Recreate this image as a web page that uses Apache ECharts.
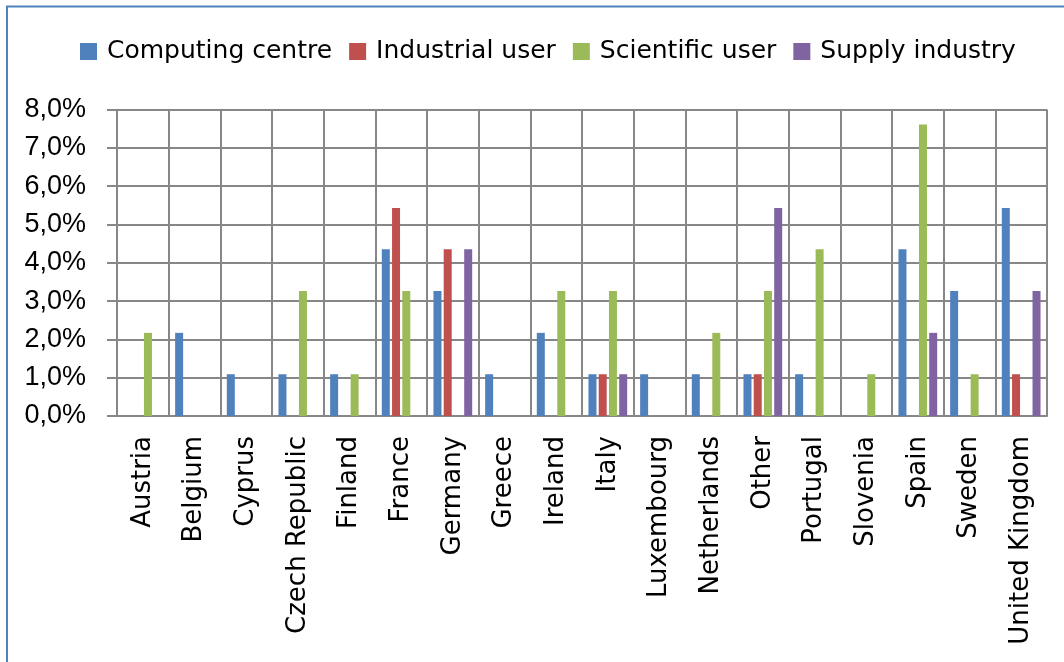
<!DOCTYPE html>
<html>
<head>
<meta charset="utf-8">
<script src="https://cdn.jsdelivr.net/npm/echarts@6/dist/echarts.min.js"></script>
<style>html,body{margin:0;padding:0;background:#fff;}#c{width:1064px;height:662px;}</style>
</head>
<body>
<div id="c"></div>
<script>
var categories = ["Austria","Belgium","Cyprus","Czech Republic","Finland","France","Germany","Greece","Ireland","Italy","Luxembourg","Netherlands","Other","Portugal","Slovenia","Spain","Sweden","United Kingdom"];
var seriesNames = ["Computing centre","Industrial user","Scientific user","Supply industry"];
var computingCentre = [0, 2.17, 1.09, 1.09, 1.09, 4.35, 3.26, 1.09, 2.17, 1.09, 1.09, 1.09, 1.09, 1.09, 0, 4.35, 3.26, 5.43];
var industrialUser  = [0, 0, 0, 0, 0, 5.43, 4.35, 0, 0, 1.09, 0, 0, 1.09, 0, 0, 0, 0, 1.09];
var scientificUser  = [2.17, 0, 0, 3.26, 1.09, 3.26, 0, 0, 3.26, 3.26, 0, 2.17, 3.26, 4.35, 1.09, 7.61, 1.09, 0];
var supplyIndustry  = [0, 0, 0, 0, 0, 0, 4.35, 0, 0, 1.09, 0, 0, 5.43, 0, 0, 2.17, 0, 3.26];
var yTicks = [0, 1, 2, 3, 4, 5, 6, 7, 8];
var colors = ["#4F81BD", "#C0504D", "#9BBB59", "#8064A2"];

var allValues = [computingCentre, industrialUser, scientificUser, supplyIndustry];
var gridColor = "#878787";

var chart = echarts.init(document.getElementById('c'), null, {renderer: 'canvas'});
chart.setOption({
  animation: false,
  color: colors,
  graphic: [{
    type: 'rect',
    shape: {x: 7, y: 6.5, width: 1100, height: 700},
    style: {fill: 'none', stroke: '#4F81BD', lineWidth: 2},
    silent: true
  }],
  legend: {
    left: 75,
    top: 34,
    itemWidth: 17,
    itemHeight: 17,
    itemGap: 17,
    icon: 'rect',
    textStyle: {fontFamily: 'DejaVu Sans', fontSize: 25, color: '#000', padding: [0, 0, 0, 5]},
    data: seriesNames
  },
  grid: {left: 117, right: 17, top: 109.5, bottom: 246, containLabel: false},
  xAxis: {
    type: 'category',
    data: categories,
    boundaryGap: true,
    axisLine: {show: true, lineStyle: {color: gridColor, width: 2}},
    axisTick: {show: false},
    splitLine: {show: true, lineStyle: {color: gridColor, width: 2}},
    axisLabel: {rotate: 90, interval: 0, margin: 20, fontFamily: 'DejaVu Sans', fontSize: 26, color: '#000'}
  },
  yAxis: {
    type: 'value',
    min: yTicks[0],
    max: yTicks[yTicks.length - 1],
    interval: 1,
    axisLine: {show: false},
    axisTick: {show: true, length: 10, lineStyle: {color: gridColor, width: 2}},
    splitLine: {show: true, lineStyle: {color: gridColor, width: 2}},
    axisLabel: {
      margin: 31,
      fontFamily: 'Liberation Sans',
      fontSize: 27,
      color: '#000',
      formatter: function (v) { return v.toFixed(1).replace('.', ',') + '%'; }
    }
  },
  series: seriesNames.map(function (name, i) {
    return {
      name: name,
      type: 'bar',
      data: allValues[i],
      barWidth: 8,
      barGap: '28%',
      itemStyle: {color: colors[i]}
    };
  })
});
</script>
</body>
</html>
